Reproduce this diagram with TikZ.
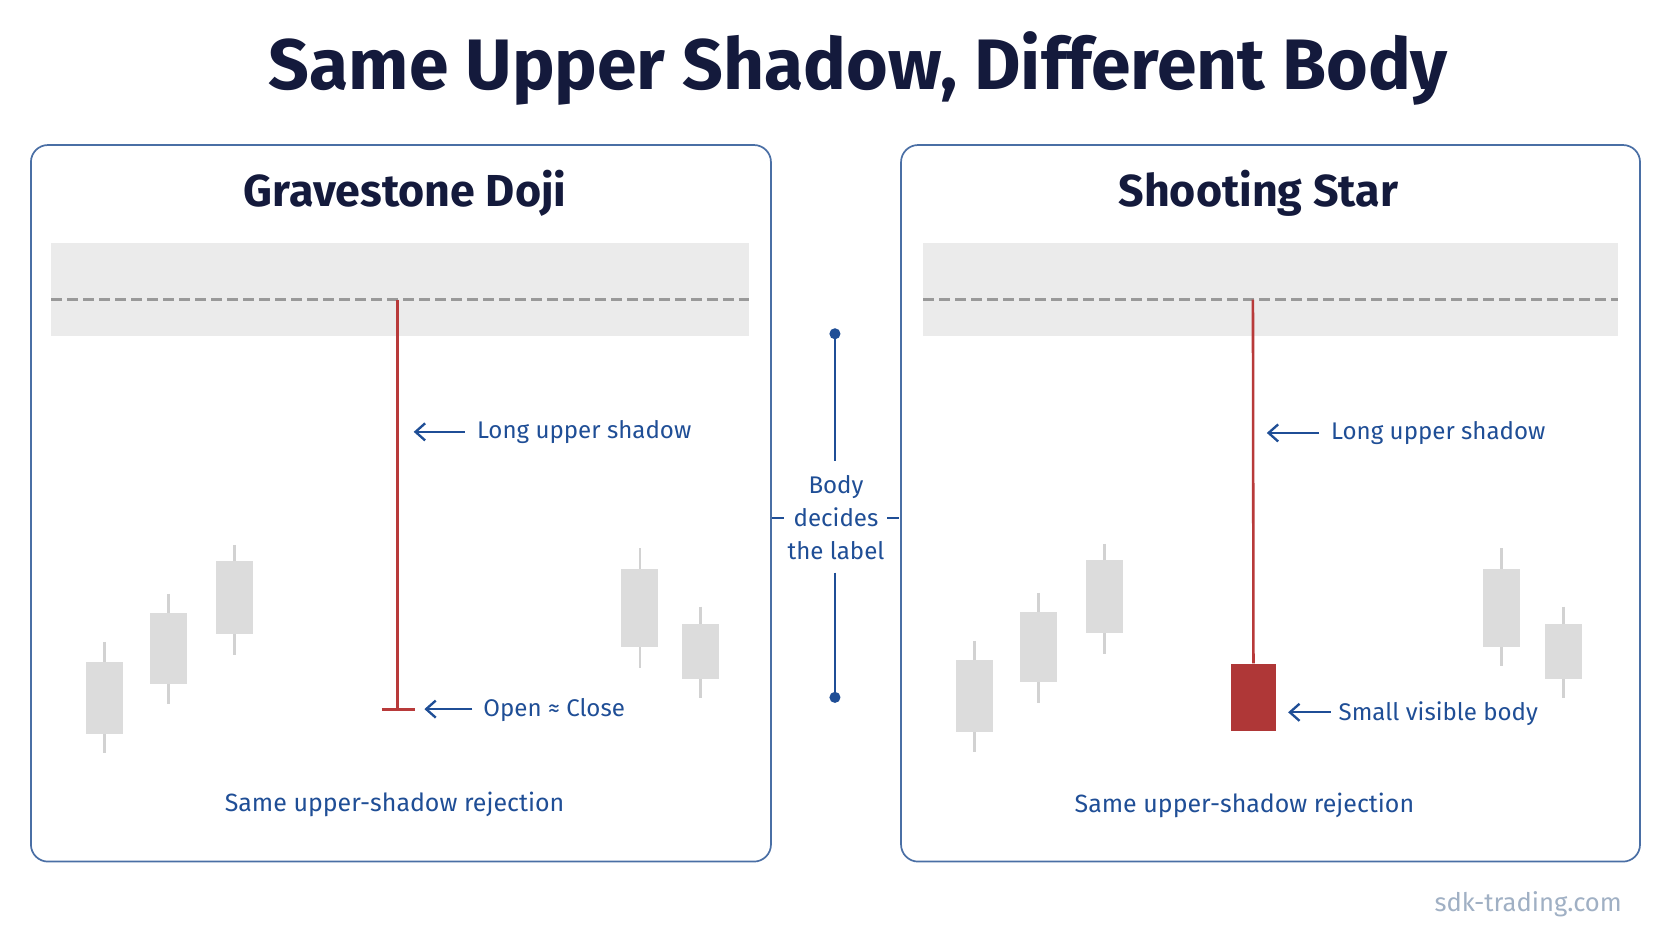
\documentclass[tikz,border=0pt]{standalone}
\usepackage{fontspec}
\setmainfont{Fira Sans}
\usetikzlibrary{arrows.meta}
\definecolor{navy}{HTML}{141A3C}
\definecolor{frameblue}{HTML}{4A6FA5}
\definecolor{lblue}{HTML}{1F4E96}
\definecolor{redc}{HTML}{B83A3A}
\definecolor{bandg}{HTML}{EBEBEB}
\definecolor{candb}{HTML}{DCDCDC}
\definecolor{candw}{HTML}{D2D2D2}
\definecolor{wm}{HTML}{A0B0C4}
\tikzset{
 panel/.style={draw=frameblue,line width=0.8pt,rounded corners=8pt,fill=white},
 ptitle/.style={font=\fontsize{21}{25}\selectfont\bfseries,text=navy},
 lbl/.style={font=\fontsize{11.3}{14}\selectfont,text=lblue,inner sep=0pt},
 blbl/.style={font=\fontsize{11.7}{14}\selectfont,text=lblue,inner sep=0pt},
 larrow/.style={-{Straight Barb[length=4.5pt,width=8pt,line width=1.1pt]},lblue,line width=1.1pt},
 wick/.style={candw,line width=1.2pt},
 dline/.style={gray!80,dash pattern=on 5pt off 2.5pt,line width=1.2pt},
}
\begin{document}
\begin{tikzpicture}[x=0.5pt,y=-0.5pt]
\useasboundingbox (0,0) rectangle (1568,882);
\fill[white] (0,0) rectangle (1568,882);
\node[font=\fontsize{33.5}{40}\selectfont\bfseries,text=navy] (title) at (805,64) {Same Upper Shadow, Different Body};
% panels
\draw[panel] (29,136) rectangle (723,808);
\draw[panel] (845,136) rectangle (1538,808);
\node[ptitle] (lt) at (380,181) {Gravestone Doji};
\node[ptitle] (rt) at (1180,181) {Shooting Star};
% bands
\fill[bandg] (48,228) rectangle (702,315);
\fill[bandg] (866,228) rectangle (1517,315);
\draw[dline] (48,281) -- (702,281);
\draw[dline] (866,281) -- (1517,281);
% candles
\foreach \x/\wt/\wb/\bt/\bb in {98/602/706/621/688,158/557/660/575/641,220/511/614/526/595,600/514/626/534/607,657/569/655/585/637,
 914/601/705/619/686,974/556/659/574/640,1036/510/613/525/594,1408/514/625/534/607,1466/569/655/585/637}{
 \draw[wick] (\x,\wt) -- (\x,\wb);
 \fill[candb] (\x-17.5,\bt) rectangle (\x+17.5,\bb);
}
% left candle
\coordinate (lh) at (373,281);
\coordinate (ll) at (373,665);
\draw[redc,line width=1.2pt] (lh) -- (ll);
\draw[redc,line width=1.5pt] (358,665) -- (389,665);
% right candle
\coordinate (rh) at (1175,281);
\node[fill=redc!95!black,minimum width=21.5pt,minimum height=31.5pt,inner sep=0pt,anchor=north] (rb) at (1175.5,622) {};
\draw[redc,line width=1.2pt] (rh) -- (rb.north);
% labels
\node[lbl,anchor=west] (l1) at (447,405) {Long upper shadow};
\draw[larrow] (436,405) -- (388,405);
\node[lbl,anchor=west] (l2) at (453,666) {Open ≈ Close};
\draw[larrow] (443,665) -- (398,665);
\node[lbl,anchor=west] (r1) at (1248,406) {Long upper shadow};
\draw[larrow] (1237,406) -- (1188,406);
\node[lbl,anchor=west] (r2) at (1255,669) {Small visible body};
\draw[larrow] (1248,668) -- (1208,668);
\node[blbl] (lb) at (370,754) {Same upper-shadow rejection};
\node[blbl] (rbl) at (1167,755) {Same upper-shadow rejection};
% middle
\node[lbl,align=center,font=\fontsize{11.3}{15.5}\selectfont] (mid) at (784,485) {Body\\decides\\the label};
\coordinate (mt) at (783,313);
\coordinate (mb) at (783,654);
\draw[lblue,line width=1pt] (mt) -- (783,432);
\draw[lblue,line width=1pt] (783,537) -- (mb);
\fill[lblue] (mt) circle (2.6pt) (mb) circle (2.6pt);
\draw[lblue,line width=1pt] (724,486) -- (735,486);
\draw[lblue,line width=1pt] (832,486) -- (843,486);
\node[font=\fontsize{12}{15}\selectfont,text=wm,anchor=east] (wmk) at (1528,848) {sdk-trading.com};
\end{tikzpicture}
\end{document}
